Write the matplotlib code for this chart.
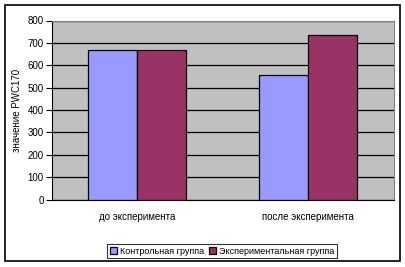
import numpy as np
import matplotlib
matplotlib.use('Agg')
import matplotlib.pyplot as plt
from matplotlib.patches import Rectangle

categories = ['до эксперимента', 'после эксперимента']
control = [666, 557]
experiment = [670, 737]
series_names = ['Контрольная группа', 'Экспериментальная группа']
yticks = [0, 100, 200, 300, 400, 500, 600, 700, 800]

plt.rcParams['font.family'] = ['Liberation Sans', 'DejaVu Sans']
plt.rcParams['font.size'] = 7

W, H = 405, 267
fig = plt.figure(figsize=(W / 100, H / 100), dpi=100)
fig.patch.set_facecolor('white')

# outer frame
fig.patches.append(Rectangle((4.5 / W, 1 - 261 / H), 395 / W, 256.5 / H,
                             transform=fig.transFigure, fill=False,
                             edgecolor='black', linewidth=1.2))

ax = fig.add_axes([52 / W, 1 - 199.5 / H, 341.5 / W, 179 / H])
ax.set_facecolor('#C0C0C0')

x = np.arange(len(categories))
w = 0.287
ax.bar(x - w / 2, control, w, color='#9999FF', edgecolor='black',
       linewidth=0.9, label=series_names[0], zorder=3)
ax.bar(x + w / 2, experiment, w, color='#993366', edgecolor='black',
       linewidth=0.9, label=series_names[1], zorder=3)

ax.set_xlim(-0.5, 1.5)
ax.set_ylim(0, 800)
ax.set_yticks(yticks)
ax.yaxis.grid(True, color='black', linewidth=0.9, zorder=1)
ax.set_axisbelow(True)
ax.set_xticks(x)
ax.set_xticklabels(categories)
ax.tick_params(axis='x', length=0, pad=9)
ax.tick_params(axis='y', length=4, width=0.8, pad=2)

for side in ['top', 'right']:
    ax.spines[side].set_color('#808080')
    ax.spines[side].set_linewidth(0.8)
ax.spines['left'].set_color('black')
ax.spines['bottom'].set_color('black')
ax.spines['left'].set_linewidth(0.8)
ax.spines['bottom'].set_linewidth(0.8)

ax.set_ylabel('значение PWC170', labelpad=4)

leg = fig.legend(loc='center', bbox_to_anchor=(222 / W, 1 - 251 / H),
                 ncol=2, frameon=True, fancybox=False, borderpad=0.3,
                 handlelength=0.8, handleheight=0.8, handletextpad=0.3,
                 columnspacing=0.5, borderaxespad=0, fontsize=6.5)
leg.get_frame().set_edgecolor('black')
leg.get_frame().set_linewidth(0.8)

fig.savefig('out.png', dpi=100)
